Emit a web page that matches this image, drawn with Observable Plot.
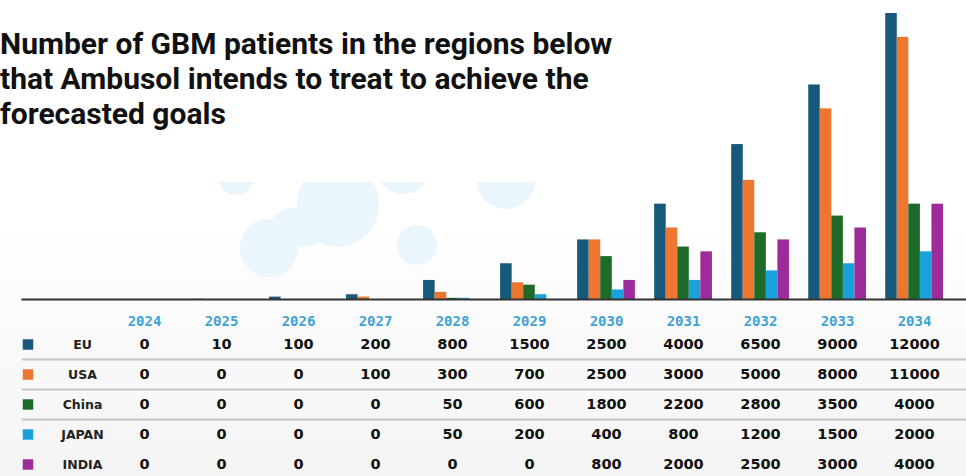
<!DOCTYPE html>
<html>
<head>
<meta charset="utf-8">
<script src="https://cdn.jsdelivr.net/npm/d3@7"></script>
<script src="https://cdn.jsdelivr.net/npm/@observablehq/plot@0.6"></script>
<style>
  html, body { margin: 0; padding: 0; }
  body {
    width: 966px; height: 476px; position: relative; overflow: hidden;
    background: linear-gradient(to bottom, #ffffff 0px, #ffffff 220px, #f4f4f4 476px);
    font-family: "DejaVu Sans", sans-serif;
  }
  #deco { position: absolute; left: 200px; top: 182px; width: 380px; height: 110px; overflow: hidden; }
  #deco div { position: absolute; border-radius: 50%; background: #eaf5fc; }
  #title {
    position: absolute; left: 0; top: 26px; margin: 0;
    font-family: Roboto, sans-serif; font-weight: 700; font-size: 30px; line-height: 35px;
    color: #111; letter-spacing: 0px;
  }
  #chart { position: absolute; left: 0; top: 0; }
  #table { position: absolute; left: 0; top: 290px; }
  svg { overflow: visible; }
</style>
</head>
<body>
<div id="deco">
  <div style="left:17px;top:-25px;width:38px;height:38px"></div>
  <div style="left:40px;top:37px;width:58px;height:58px"></div>
  <div style="left:97px;top:-20px;width:82px;height:85px"></div>
  <div style="left:70px;top:25px;width:60px;height:40px"></div>
  <div style="left:197px;top:43px;width:40px;height:40px"></div>
  <div style="left:177px;top:-38px;width:52px;height:50px"></div>
  <div style="left:277px;top:-29px;width:58px;height:56px"></div>
</div>
<div id="chart"></div>
<div id="table"></div>
<div id="title">Number of GBM patients in the regions below<br>that Ambusol intends to treat to achieve the<br>forecasted goals</div>
<script>
const years = [2024, 2025, 2026, 2027, 2028, 2029, 2030, 2031, 2032, 2033, 2034];
const regions = ["EU", "USA", "China", "JAPAN", "INDIA"];
const EU    = [0, 10, 100, 200, 800, 1500, 2500, 4000, 6500, 9000, 12000];
const USA   = [0, 0, 0, 100, 300, 700, 2500, 3000, 5000, 8000, 11000];
const China = [0, 0, 0, 0, 50, 600, 1800, 2200, 2800, 3500, 4000];
const JAPAN = [0, 0, 0, 0, 50, 200, 400, 800, 1200, 1500, 2000];
const INDIA = [0, 0, 0, 0, 0, 0, 800, 2000, 2500, 3000, 4000];
const colors = ["#17597b", "#ee7631", "#1c6b29", "#1aa1db", "#9d2b99"];

const series = {EU, USA, China, JAPAN, INDIA};
const data = regions.flatMap(r => years.map((y, i) => ({year: y, region: r, value: series[r][i]})));

const W = 966, ML = 115, MR = 23;

const chart = Plot.plot({
  width: W,
  height: 299,
  marginTop: 13,
  marginBottom: 0,
  marginLeft: ML,
  marginRight: MR,
  fx: {domain: years, paddingInner: 0.25, paddingOuter: 0, round: false, axis: null},
  x: {domain: regions, padding: 0, round: false, axis: null},
  y: {domain: [0, 12000], axis: null},
  color: {domain: regions, range: colors},
  marks: [
    Plot.barY(data, {fx: "year", x: "region", y: "value", fill: "region"})
  ]
});
document.getElementById("chart").append(chart);

// table columns aligned on the centres of the chart's year groups
let colRange = [ML + 28.9, W - MR - 28.9];
try {
  const s = chart.scale("fx");
  if (s && typeof s.apply === "function") {
    colRange = [s.apply(years[0]) + s.bandwidth / 2, s.apply(years[years.length - 1]) + s.bandwidth / 2];
  }
} catch (e) {}

const table = Plot.plot({
  width: W,
  height: 186,
  marginTop: 9,
  marginBottom: 0,
  marginLeft: ML,
  marginRight: MR,
  x: {type: "point", domain: years, range: colRange, padding: 0, axis: null},
  y: {type: "point", domain: regions, range: [53, 175], padding: 0, axis: null},
  color: {domain: regions, range: colors},
  marks: [
    Plot.frame({anchor: "top", stroke: "#333", strokeWidth: 2.2, insetLeft: 22 - ML, insetRight: -MR}),
    Plot.ruleY(regions.slice(0, 3), {y: d => d, dy: 15, stroke: "#c4c4c4", strokeWidth: 2,
      insetLeft: 22 - ML, insetRight: -MR}),
    Plot.text(years, {x: d => d, text: d => String(d), frameAnchor: "top", dy: 17,
      fill: "#3ea3d4", fontFamily: "DejaVu Sans Mono", fontWeight: "bold", fontSize: 14}),
    Plot.dot(regions, {y: d => d, frameAnchor: "left", dx: 27.5 - ML, symbol: "square", r: 5.9,
      fill: d => d}),
    Plot.text(regions, {y: d => d, text: d => d, frameAnchor: "left", dx: 82 - ML, textAnchor: "middle",
      fill: "#222", fontFamily: "DejaVu Sans", fontWeight: "bold", fontSize: 12.5}),
    Plot.text(data, {x: "year", y: "region", text: d => String(d.value),
      fill: "#111", fontFamily: "DejaVu Sans", fontWeight: "bold", fontSize: 14.5})
  ]
});
document.getElementById("table").append(table);
</script>
</body>
</html>
